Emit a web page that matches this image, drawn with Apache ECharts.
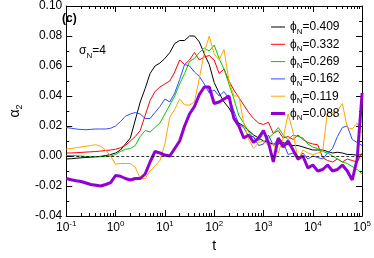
<!DOCTYPE html>
<html><head><meta charset="utf-8">
<script src="https://cdn.jsdelivr.net/npm/echarts@6/dist/echarts.min.js"></script>
<style>html,body{margin:0;padding:0;background:#fff}#c{width:374px;height:258px}</style>
</head><body><div id="c"></div>
<script>
// log10(t) grid shared by all curves
const logT = [-1.0,-0.9,-0.8,-0.7,-0.6,-0.5,-0.4,-0.3,-0.2,-0.1,
  0.0,0.1,0.2,0.3,0.4,0.5,0.6,0.7,0.8,0.9,
  1.0,1.1,1.2,1.3,1.4,1.5,1.6,1.7,1.8,1.9,
  2.0,2.1,2.2,2.3,2.4,2.5,2.6,2.7,2.8,2.9,
  3.0,3.1,3.2,3.3,3.4,3.5,3.6,3.7,3.8,3.9,
  4.0,4.1,4.2,4.3,4.4,4.5,4.6,4.7,4.8,4.9,5.0];

const phi0409 = [-0.002,-0.0018,-0.0015,-0.0012,-0.001,-0.0008,-0.0005,-0.0002,0.0003,0.001,
  0.002,0.004,0.008,0.012,0.024,0.036,0.045,0.055,0.060,0.062,
  0.065,0.069,0.075,0.077,0.077,0.080,0.080,0.076,0.068,0.061,
  0.049,0.042,0.036,0.032,0.026,0.022,0.020,0.017,0.014,0.012,
  0.010,0.009,0.008,0.008,0.009,0.0075,0.007,0.007,0.006,0.005,
  0.004,0.004,0.004,0.003,0.002,0.0025,0.002,0.001,0.001,0.0005,0.001];

const phi0332 = [0.002,0.002,0.0022,0.0024,0.0026,0.0028,0.003,0.0033,0.0037,0.004,
  0.0045,0.0055,0.007,0.010,0.013,0.017,0.027,0.037,0.043,0.046,
  0.048,0.050,0.056,0.064,0.061,0.064,0.069,0.064,0.066,0.067,
  0.064,0.055,0.058,0.050,0.044,0.039,0.034,0.029,0.025,0.022,
  0.021,0.0225,0.015,0.017,0.012,0.013,0.011,0.014,0.011,0.009,
  0.008,0.0075,-0.001,-0.003,-0.004,-0.002,-0.004,-0.002,-0.003,-0.004,0.002];

const phi0269 = [0.0004,0.0003,0.0002,0.0,-0.0003,-0.0005,-0.0006,-0.0005,-0.0003,0.0,
  0.001,0.003,0.0045,0.005,0.007,0.013,0.017,0.016,0.019,0.022,
  0.028,0.034,0.040,0.048,0.055,0.063,0.065,0.069,0.072,0.070,
  0.074,0.065,0.058,0.048,0.038,0.027,0.022,0.016,0.012,0.010,
  0.015,0.012,0.015,0.019,0.014,0.011,0.014,0.013,0.012,0.008,
  0.006,0.005,0.003,0.002,0.0,-0.002,-0.004,-0.005,-0.007,-0.009,-0.012];

const phi0162 = [0.019,0.0185,0.018,0.0177,0.0175,0.0178,0.018,0.018,0.018,0.0185,
  0.02,0.023,0.0265,0.028,0.029,0.028,0.025,0.025,0.029,0.033,
  0.038,0.036,0.042,0.051,0.061,0.060,0.056,0.053,0.048,0.042,
  0.044,0.040,0.043,0.038,0.030,0.021,0.019,0.013,0.013,0.007,
  0.008,0.014,0.007,0.012,0.009,0.001,0.002,-0.002,0.002,-0.002,
  0.0,-0.001,-0.002,0.002,0.005,0.013,0.019,0.020,0.011,0.009,0.007];

const phi0119 = [0.0046,0.005,0.0055,0.006,0.0065,0.007,0.0075,0.0065,0.004,0.0,
  -0.0055,-0.005,-0.005,-0.005,-0.0075,-0.015,-0.015,-0.010,-0.0065,-0.003,
  0.008,0.026,0.031,0.038,0.034,0.034,0.036,0.052,0.069,0.080,
  0.068,0.064,0.071,0.050,0.040,0.040,0.022,0.011,0.005,0.009,
  0.010,0.007,0.008,0.002,0.012,0.028,0.016,-0.003,0.004,0.002,
  0.001,0.002,0.003,0.030,0.029,0.030,0.035,0.019,0.018,0.022,0.015];

const phi0088 = [-0.015,-0.0158,-0.0165,-0.017,-0.018,-0.019,-0.0195,-0.02,-0.019,-0.0178,
  -0.013,-0.0135,-0.015,-0.016,-0.015,-0.015,-0.012,-0.004,0.003,0.002,
  0.0006,0.0,0.005,0.010,0.020,0.028,0.033,0.041,0.046,0.046,
  0.035,0.036,0.038,0.040,0.025,0.020,0.012,0.014,0.009,0.012,
  0.017,0.009,-0.004,0.012,0.006,0.010,0.004,-0.002,0.0,-0.008,
  -0.006,-0.010,-0.009,-0.006,-0.010,-0.009,-0.006,-0.010,-0.016,-0.002,0.042];

const seriesNames = ['0.409','0.332','0.269','0.162','0.119','0.088'];
const seriesValues = [phi0409, phi0332, phi0269, phi0162, phi0119, phi0088];
const colors = ['#000000','#ff0000','#00cc00','#2e4bff','#ffa500','#9400d3'];
const widths = [1,1,1,1,1,3];

const yTicks = {min:-0.04, max:0.10, interval:0.02};
const xDecades = [0.1, 1, 10, 100, 1000, 10000, 100000];

const font = 'Liberation Sans, Arial, Helvetica, sans-serif';
const chart = echarts.init(document.getElementById('c'));

const series = seriesNames.map((n,i)=>({
  name:n, type:'line',
  data: logT.map((lt,k)=>[Math.pow(10,lt), seriesValues[i][k]]),
  showSymbol:false, symbol:'none',
  lineStyle:{color:colors[i], width:widths[i]}, itemStyle:{color:colors[i]},
  z: i===5 ? 3 : 2
}));
series[0].markLine = {
  silent:true, symbol:'none',
  lineStyle:{color:'#000', type:[3,2], width:0.8},
  label:{show:false},
  data:[{yAxis:0}]
};

const textGraphics = [
  {type:'text', left:62, top:13, style:{text:'(c)', font:'bold 12px '+font, fill:'#000'}},
  {type:'text', left:79, top:45, style:{text:'{a|σ}{s|N}{a|=4}', rich:{
    a:{fontSize:12, fontFamily:font, fill:'#000', lineHeight:13},
    s:{fontSize:8, fontFamily:font, fill:'#000', lineHeight:13, verticalAlign:'bottom', padding:[0,0,-2,0]}}}}
];

function tickOpt(){ return {show:true, inside:true, length:6, lineStyle:{color:'#000', width:1}}; }
function yMinorOpt(){ return {show:true, splitNumber:2, length:3, lineStyle:{color:'#000', width:1}}; }

chart.setOption({
  animation:false,
  grid:{left:45, right:10, top:5, bottom:30},
  xAxis:[
    {type:'log', logBase:10, min:0.1, max:1e5, position:'bottom',
      name:'t', nameLocation:'middle', nameGap:23,
      nameTextStyle:{fontFamily:font, fontSize:14, color:'#000'},
      axisLine:{show:true, onZero:false, lineStyle:{color:'#000'}},
      axisTick:tickOpt(), splitLine:{show:false},
      axisLabel:{margin:4, fontFamily:font, color:'#000',
        formatter:function(v){ const e=Math.round(Math.log10(v)); return '{b|10}{s|'+e+'}'; },
        rich:{b:{fontSize:12, fontFamily:font, color:'#000', lineHeight:14, verticalAlign:'bottom'},
              s:{fontSize:8, fontFamily:font, color:'#000', lineHeight:14, verticalAlign:'top'}}}},
    {type:'log', logBase:10, min:0.1, max:1e5, position:'top',
      axisLine:{show:true, onZero:false, lineStyle:{color:'#000'}},
      axisTick:tickOpt(), splitLine:{show:false}, axisLabel:{show:false}}
  ],
  yAxis:[
    {type:'value', min:yTicks.min, max:yTicks.max, interval:yTicks.interval, position:'left',
      name:'{a|α}{s|2}', nameLocation:'middle', nameGap:36, nameRotate:90,
      nameTextStyle:{rich:{a:{fontSize:14, fontFamily:font, color:'#000', lineHeight:16, verticalAlign:'top'},
                           s:{fontSize:9, fontFamily:font, color:'#000', lineHeight:16, verticalAlign:'bottom'}}},
      axisLine:{show:true, onZero:false, lineStyle:{color:'#000'}},
      axisTick:tickOpt(), minorTick:yMinorOpt(), splitLine:{show:false},
      axisLabel:{margin:4, fontFamily:font, fontSize:12, color:'#000', formatter:v=>v.toFixed(2)}},
    {type:'value', min:yTicks.min, max:yTicks.max, interval:yTicks.interval, position:'right',
      axisLine:{show:true, onZero:false, lineStyle:{color:'#000'}},
      axisTick:tickOpt(), minorTick:yMinorOpt(), splitLine:{show:false}, axisLabel:{show:false}}
  ],
  legend:{
    orient:'vertical', left:266, top:16, itemWidth:14, itemHeight:10, itemGap:2.8, symbolKeepAspect:true,
    data: seriesNames.map((n,i)=>({name:n, icon: widths[i] > 1 ? 'path://M0,0H14V3H0Z' : 'path://M0,0H14V1H0Z'})),
    formatter:function(n){ return '{p|ϕ}{s|N}{p|='+n+'}'; },
    textStyle:{padding:[0,0,0,0], rich:{
      p:{fontSize:12, fontFamily:font, color:'#000', lineHeight:13},
      s:{fontSize:8, fontFamily:font, color:'#000', lineHeight:13, verticalAlign:'bottom', padding:[0,0,-2,0]}}}
  },
  graphic: textGraphics,
  series: series
});

// log-spaced minor ticks (2..9 per decade) on bottom and top, placed with the chart's own conversion
(function addMinorX(){
  let toPx = (x, y) => chart.convertToPixel({xAxisIndex:0, yAxisIndex:0}, [x, y]);
  if (!toPx(1, 0)) toPx = (x, y) => chart.convertToPixel({seriesIndex:0}, [x, y]);
  const yb = toPx(xDecades[0], yTicks.min)[1], yt = toPx(xDecades[0], yTicks.max)[1];
  const els = textGraphics.slice();
  for (let d = 0; d < xDecades.length - 1; d++) for (let m = 2; m <= 9; m++) {
    const x = Math.floor(toPx(xDecades[d]*m, yTicks.min)[0]);
    els.push({type:'rect', silent:true, z:100, shape:{x:x, y:yb - 3, width:1, height:3}, style:{fill:'#000'}});
    els.push({type:'rect', silent:true, z:100, shape:{x:x, y:yt, width:1, height:3}, style:{fill:'#000'}});
  }
  chart.setOption({graphic: els});
})();
</script></body></html>
